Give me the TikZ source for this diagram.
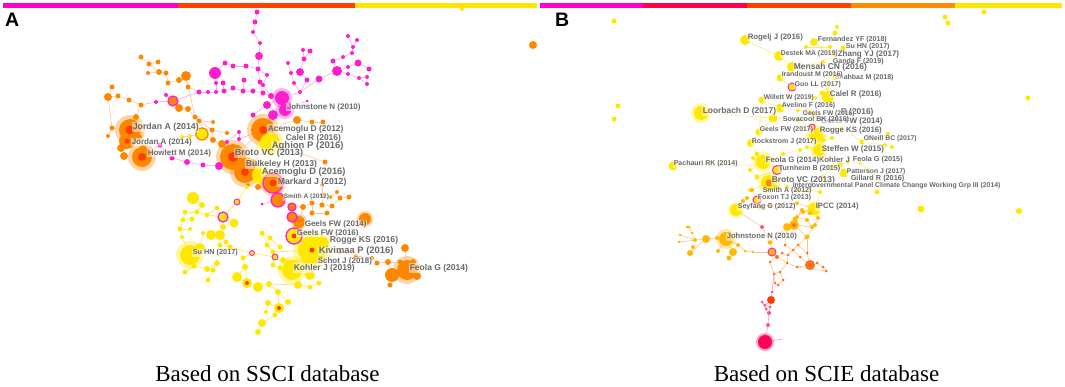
\documentclass[tikz,border=0pt]{standalone}
\usepackage{fontspec}
\setmainfont{Liberation Serif}
\newfontfamily\lsans{Liberation Sans}
\pgfdeclarelayer{bg}
\pgfsetlayers{bg,main}
\definecolor{cm}{RGB}{255,30,205}
\definecolor{co}{RGB}{255,135,0}
\definecolor{cr}{RGB}{255,60,0}
\definecolor{cy}{RGB}{255,232,0}
\definecolor{ca}{RGB}{255,185,0}
\definecolor{cn}{RGB}{255,110,25}
\definecolor{cc}{RGB}{255,0,90}
\definecolor{cp}{RGB}{255,80,150}
\definecolor{em}{RGB}{255,165,220}
\definecolor{eo}{RGB}{255,195,150}
\definecolor{ey}{RGB}{255,226,70}
\definecolor{eb}{RGB}{255,190,120}
\definecolor{labgray}{RGB}{105,105,105}
\definecolor{bm}{RGB}{255,0,200}
\definecolor{bc}{RGB}{255,0,70}
\definecolor{bo}{RGB}{255,65,0}
\definecolor{ba}{RGB}{255,140,0}
\definecolor{by}{RGB}{255,230,0}
\tikzset{
  nd/.style={circle,inner sep=0pt,outer sep=0pt},
  halo/.style={circle,inner sep=0pt,outer sep=0pt,fill opacity=0.35},
  ringm/.style={nd,draw=cm,line width=1.3pt},
  ringo/.style={nd,draw=co,line width=1.3pt},
  ea/.style={draw=em,line width=0.6pt},
  eoa/.style={draw=eo,line width=0.6pt},
  eya/.style={draw=ey,line width=0.6pt},
  eyb/.style={draw=ey,line width=0.5pt,opacity=0.8},
  ebb/.style={draw=eb,line width=0.5pt},
  epb/.style={draw=cp!60,line width=0.6pt},
  lab/.style={anchor=west,inner sep=0.6pt,fill=white,fill opacity=0.5,text opacity=1,text=labgray,font=\lsans\bfseries\fontsize{#1}{#1}\selectfont},
  captext/.style={anchor=base,inner sep=0pt,font=\fontsize{23}{23}\selectfont},
  paneltag/.style={anchor=base west,inner sep=0pt,font=\lsans\bfseries\fontsize{19.5}{19.5}\selectfont}
}
\begin{document}
\begin{tikzpicture}[x=1pt,y=-1pt]
\useasboundingbox (0,0) rectangle (1065,386);
% timeline bars
\fill[bm] (3,3) rectangle (178,8);
\fill[bo] (178,3) rectangle (355,8);
\fill[by] (355,3) rectangle (537,8);
\fill[bm] (540,3) rectangle (643,8);
\fill[bc] (643,3) rectangle (747,8);
\fill[bo] (747,3) rectangle (851,8);
\fill[ba] (851,3) rectangle (955,8);
\fill[by] (955,3) rectangle (1062,8);
\node[nd,fill=cy,minimum size=4] (bardot) at (462,9) {};
\node[paneltag] (pA) at (5,26) {A};
\node[paneltag] (pB) at (555,26) {B};
% ---------------- panel A nodes
\foreach \n/\x/\y/\d/\c in {
t1/257/12/5/cm, t2/255/22/5/cm, t3/253/32/4/cm, t4/260/43/4/cm, t5/259/56/8/cm, t6/258/69/5/cm, t7/260/82/5/cm, t8/263/93/5/cm, t9/271/96/6/cm, t10/282/98/14/cm, t11/285/110/12/cm, t12/273/115/10/cm, t13/267/105/8/cm, t14/253/115/5/cm, t15/246/66/5/cm, t16/233/66/5/cm, t17/225/63/5/cm, t18/215/73/12/cm, t19/216/83/4/cm, t20/223/83/5/cm, t21/216/92/4/cm, t22/224/91/5/cm, t23/233/88/5/cm, t24/243/91/5/cm, t25/253/91/5/cm, t26/244/80/5/cm, t27/267/75/4/cm, t28/263/85/4/cm, t29/208/92/4/cm, t30/199/92/5/cm, t31/288/63/4/cm, t32/291/73/4/cm, t33/294/83/4/cm, t34/300/72/8/cm, t35/304/59/5/cm, t36/307/80/5/cm, t37/310/51/5/cm, t38/303/50/4/cm, t39/319/79/7/cm, t40/300/92/4/cm, t41/337/71/10/cm, t42/333/61/5/cm, t43/343/57/4/cm, t44/348/36/4/cm, t45/357/40/4/cm, t46/353/47/4/cm, t47/352/53/4/cm, t48/358/63/7/cm, t49/348/67/4/cm, t50/348/74/4/cm, t51/359/78/4/cm, t52/367/77/4/cm, t53/367/84/4/cm, t54/369/69/5/cm, t55/307/101/3/cm,
o1/108/97/8/co, o2/112/87/5/co, o3/118/96/5/co, o4/129/100/5/co, o5/141/105/5/co, o6/141/57/5/co, o7/149/64/5/co, o8/158/62/5/co, o9/159/72/6/co, o10/166/73/5/co, o11/148/73/4/co, o12/168/83/5/co, o13/179/80/6/co, o14/186/76/10/co, o15/188/87/5/co, o16/156/102/4/cm, o17/166/95/4/cm, o19/179/108/8/co, o20/188/109/6/co,
j1/130/130/22/co, j2/127/141/16/co, j3/121/148/8/co, j4/124/156/8/co, j5/142/157/20/co, j6/143/149/8/co, j7/112/128/5/co, j8/108/136/4/co, j9/136/117/6/co, j10/139/137/6/co, j11/160/145/5/cm,
b1/172/158/5/cm, b2/187/162/6/cm, b3/203/165/5/cm, b4/219/166/8/cm, b5/227/142/4/cm, b6/239/132/4/cm, b7/239/139/4/cm,
ys1/190/136/4/cy, ys2/182/137/4/cy,
c1/195/117/5/co, c2/199/121/5/co, c3/212/130/5/co, c4/213/140/6/co, c5/222/144/8/co, c6/213/122/4/co, c7/227/133/4/co,
B1/233/157/26/co, B2/245/172/22/co, B3/253/163/8/co, A1/263/130/24/co, A2/270/143/20/cy, A3/260/175/16/cy,
z1/297/120/8/co, z2/312/122/5/co, z3/323/122/5/co, z4/325/162/5/co,
r1/303/207/6/co, r2/312/203/5/co, r3/322/205/5/co, r4/332/206/5/co, r5/340/198/5/co, r6/349/197/5/co, r7/322/195/4/co, r8/330/197/4/co, r9/312/213/5/co, r10/327/213/5/co, r11/322/185/4/co, r12/337/192/4/co, r13/258/187/6/co, r14/248/185/4/co, r15/262/204/3/cm,
g1/299/222/12/co, g2/365/219/12/co,
k1/312/250/28/cy, k2/322/243/14/cy, k3/307/260/10/cy, k4/292/270/20/cy, k5/310/275/10/cy,
h1/340/252/4/co, h2/356/256/4/co,
f1/407/270/20/co, f2/392/275/14/co, f3/405/248/8/co, f4/388/262/6/co, f5/413/262/6/co, f6/417/276/8/co, f7/377/263/5/co, f8/390/285/5/co, f9/400/262/5/co, f10/372/258/4/co,
y1/193/198/12/cy, y2/202/205/6/cy, y3/185/212/5/cy, y4/197/212/5/cy, y5/207/215/5/cy, y7/217/208/5/cy, y8/183/220/5/cy, y9/192/219/5/cy, y10/234/223/9/cy, y11/180/229/5/cy, y12/190/229/4/cy, y13/203/233/4/cy, y14/211/235/10/cy, y15/220/235/10/cy, y16/223/227/6/cy, y17/230/247/5/cy, y18/220/245/5/cy, y19/226/242/5/cy, y20/190/255/20/cy, y21/200/248/10/cy, y22/182/237/4/cy, y23/194/266/5/cy, y24/185/272/5/cy, y25/207/269/6/cy, y26/217/263/6/cy, y27/213/270/5/cy, y28/208/280/5/cy, y32/243/258/5/cy, y33/245/267/6/cy, y34/237/277/10/cy, y35/247/283/10/cy, y36/258/287/10/cy, y37/269/284/6/cy, y38/278/292/6/cy, y39/279/308/10/cy, y40/275/315/5/cy, y41/268/303/6/cy, y42/262/323/8/cy, y43/258/332/6/cy, y44/288/302/6/cy, y45/298/285/8/cy, y46/310/287/5/cy, y47/319/283/5/cy, y48/266/312/4/cy, y49/262/233/5/cy, y50/270/238/5/cy, y51/267/245/5/cy, y52/273/252/5/cy, y53/280/247/5/cy, y54/283/260/6/cy, y55/288/265/6/cy, y56/273/265/5/cy, y57/280/268/5/cy, y58/247/187/4/cy}
  {\node[nd,fill=\c,minimum size=\d] (\n) at (\x,\y) {};}
% ring nodes A
\node[ringm,fill=co,minimum size=10] (o18) at (173,101) {};
\node[ringo,fill=cy,minimum size=12] (yr1) at (202,134) {};
\node[ringm,fill=co,minimum size=20] (M1) at (273,183) {};
\node[ringm,fill=co,minimum size=14] (M2) at (278,200) {};
\node[ringm,fill=co,minimum size=8] (M4) at (292,207) {};
\node[ringm,fill=co,minimum size=10] (M5) at (292,217) {};
\node[ringm,fill=cy,minimum size=16] (g3) at (294,236) {};
\node[ringm,fill=cy,minimum size=10] (y6) at (223,217) {};
\node[ringm,fill=cy,line width=0.9pt,minimum size=6] (y29) at (237,202) {};
\node[ringm,fill=cy,line width=0.9pt,minimum size=5] (y30) at (252,253) {};
\node[ringm,fill=cy,line width=0.9pt,minimum size=6] (y31) at (275,257) {};
% dark centres
\foreach \n/\d in {j1/9, j2/5, j5/8, B1/10, B2/8, A1/8, M1/7, k1/5, y35/4, y39/4, g3/5}
  {\node[nd,fill=cr,minimum size=\d] (\n c) at (\n) {};}
% ---------------- panel A edges and halos
\begin{pgfonlayer}{bg}
\foreach \n/\d/\c in {j1/30/co, j5/28/co, B1/34/co, B2/30/co, A1/32/co, A2/28/cy, A3/22/cy, M1/26/co, k1/38/cy, k4/28/cy, f1/28/co, y20/28/cy, t10/20/cm, t11/18/cm, g1/16/co, g2/16/co}
  {\node[halo,fill=\c,minimum size=\d] (\n h) at (\n) {};}
\foreach \a/\b in {t1/t2, t2/t3, t3/t4, t4/t5, t5/t6, t6/t7, t7/t8, t8/t9, t9/t10, t10/t11, t10/t12, t10/t13, t13/t14, t6/t15, t15/t16, t16/t17, t17/t18, t18/t19, t19/t21, t20/t22, t21/t22, t22/t23, t23/t24, t24/t25, t25/t8, t26/t24, t6/t27, t27/t28, t28/t9, t21/t29, t29/t30, t10/t40, t40/t33, t33/t32, t32/t31, t40/t36, t36/t34, t34/t35, t35/t37, t35/t38, t40/t39, t39/t41, t41/t42, t42/t43, t43/t47, t47/t46, t46/t45, t46/t44, t41/t49, t49/t48, t48/t54, t41/t50, t50/t51, t51/t52, t51/t53, t11/t55, t30/o18, o18/o17, o18/o16, o16/o5, b4/b5, b5/b6, b6/b7, b7/A1, j11/b1, b1/b2, b2/b3, b3/b4, b4/B1, B2/A3, A3/M1, M1/M2, M2/M4, M4/M5, t12/A1, M2/r15}
  {\draw[ea] (\a) -- (\b);}
\foreach \a/\b in {o5/o4, o4/o3, o3/o1, o1/o2, o1/j7, j7/j8, j7/j1, j1/j9, j9/o5, j1/j2, j2/j3, j3/j4, j2/j10, j10/j6, j6/j5, j5/j11, o14/o13, o13/o12, o12/o10, o10/o9, o9/o7, o7/o6, o9/o11, o7/o8, o14/o15, o15/t30, o14/c1, c1/c2, c2/c3, c3/c4, c4/c5, c5/B1, c2/c6, c3/c7, o18/o19, o19/o20, o20/c4, yr1/c4, yr1/ys1, ys1/ys2, B1/B2, B1/A1, A1/A2, A2/t12, B2/B3, B3/A2, A1/z1, z1/z2, z2/z3, A2/z4, M1/r13, r13/r14, M2/r1, r1/r2, r2/r3, r3/r4, r4/r5, r5/r6, r3/r7, r7/r8, r2/r9, r9/r10, r7/r11, r8/r12, M5/g1, g1/g3, g3/k1, k1/k2, k1/k3, k2/g2, k2/h1, h1/h2, h2/f10, f10/f7, f7/f4, f4/f2, f2/f1, f1/f3, f1/f5, f1/f6, f2/f8, f4/f9, g1/r1}
  {\draw[eoa] (\a) -- (\b);}
\foreach \a/\b in {A3/y58, y58/y29, y29/y6, y6/y10, y6/y5, y5/y4, y4/y2, y2/y1, y4/y3, y3/y8, y8/y9, y8/y11, y11/y12, y11/y22, y22/y20, y20/y21, y21/y13, y13/y14, y14/y15, y15/y16, y16/y10, y15/y19, y19/y17, y17/y18, y20/y23, y23/y24, y23/y25, y25/y26, y26/y27, y27/y28, y7/y5, y17/y30, y30/y32, y32/y33, y33/y34, y30/y31, y31/k4, y31/y49, y49/y50, y50/y51, y51/y52, y52/k1, y50/y53, y54/y55, y55/k4, y56/y57, y52/y56, y34/y35, y35/y36, y36/y37, y37/y38, y38/y39, y39/y40, y39/y41, y41/y48, y40/y42, y42/y43, y38/y44, y37/y45, y45/y46, y46/y47, y33/y35, k1/k4, k4/k5, k1/k3, y54/k3}
  {\draw[eya] (\a) -- (\b);}
\end{pgfonlayer}
% ---------------- panel A labels
\node[lab=8] (la1) at (286,107) {Johnstone N (2010)};
\node[lab=8.4] (la2) at (267,129) {Acemoglu D (2012)};
\node[lab=8.4] (la3) at (285,138) {Calel R (2016)};
\node[lab=9.5] (la4) at (271,146) {Aghion P (2016)};
\node[lab=9.1] (la5) at (234,153) {Broto VC (2013)};
\node[lab=8.6] (la6) at (245,164) {Bulkeley H (2013)};
\node[lab=9.3] (la7) at (261,172) {Acemoglu D (2016)};
\node[lab=8.7] (la8) at (277,182) {Markard J (2012)};
\node[lab=6.5] (la9) at (283,197) {Smith A (2012)};
\node[lab=8.8] (la10) at (132,127) {Jordan A (2014)};
\node[lab=8] (la11) at (131,142) {Jordan A (2014)};
\node[lab=8] (la12) at (147,153) {Howlett M (2014)};
\node[lab=8] (la13) at (304,224) {Geels FW (2014)};
\node[lab=8] (la14) at (296,233) {Geels FW (2016)};
\node[lab=8.6] (la15) at (329,240) {Rogge KS (2016)};
\node[lab=9.4] (la16) at (318,251) {Kivimaa P (2016)};
\node[lab=8] (la17) at (317,261) {Schot J (2018)};
\node[lab=8.5] (la18) at (293,268) {Kohler J (2019)};
\node[lab=7.3] (la19) at (192,253) {Su HN (2017)};
\node[lab=8.5] (la20) at (409,268) {Feola G (2014)};
% ---------------- panel B nodes
\foreach \n/\x/\y/\d/\c in {
q1/533/45/8/co, q2/614/21/5/cy, q3/945/17/5/cy, q4/948/23/5/cy, q5/984/12/5/cy, q6/837/27/4/cy, q7/835/33/5/cy, q8/618/106/5/cy, q9/614/119/5/cy, q10/1028/98/5/cy, q11/921/209/7/cy, q12/1019/211/6/cy, q13/745/40/10/cy, q14/814/42/8/cy, q15/843/48/5/cy, q16/779/56/10/cy, q17/835/55/4/cy, q18/792/67/10/cy, q19/780/78/7/cy, q20/835/78/5/cy, q22/828/97/12/cy, q23/762/100/7/cy, q24/780/108/9/cy, q25/701/113/14/cy, q26/773/118/9/cy, q27/810/112/5/cy, q29/816/135/14/cy, q30/759/132/7/cy, q31/751/143/8/cy, q32/862/142/5/cy, q33/888/134/4/cy, q34/892/147/4/cy, q35/885/145/4/cy, q36/819/150/12/cy, q37/673/166/9/cy, q38/763/162/14/cy, q40/769/183/16/cy, q41/844/173/9/cy, q43/736/210/12/cy, q44/814/209/12/cy, q46/750/190/4/cy,
p1/806/47/4/cy, p2/830/47/4/cy, p3/823/62/4/cy, p4/832/73/4/cy, p5/822/93/5/cy, p6/827/88/4/cy, p7/815/98/4/cy, p8/798/110/4/cy, p9/799/120/5/cy, p10/832/138/4/cy, p11/823/140/5/cy, p12/807/147/4/cy, p13/800/150/4/cy, p14/783/154/4/cy, p15/757/154/5/cy, p16/753/158/4/cy, p17/760/165/4/cy, p18/750/170/4/cy, p19/757/177/5/cy, p20/777/187/4/cy, p21/787/187/4/cy, p22/797/190/4/cy, p23/810/190/4/cy, p24/820/192/4/cy, p25/823/177/5/cy, p26/832/167/4/cy, p27/840/165/5/cy, p28/848/162/4/cy, p29/860/163/4/cy, p30/868/170/4/cy, p31/877/192/5/cy, p32/815/116/5/cy, p33/842/128/4/cy,
p34/747/198/4/ca, p35/743/201/4/ca, p36/752/190/4/ca, p37/760/207/4/ca, p38/770/205/4/ca, p39/797/203/4/ca, p40/803/212/4/ca, p41/797/217/4/ca, p42/807/220/4/ca, p43/812/227/4/ca,
L1/726/239/14/ca, L2/706/239/8/ca, L3/733/252/8/ca, L4/729/258/5/ca, L5/690/253/6/ca, L6/693/247/4/ca, L7/680/235/3/ca, L8/679/242/3/ca, L9/689/227/3/ca, L10/692/233/3/ca, L11/695/240/4/ca, L12/717/238/4/ca, L13/718/251/4/ca, L14/738/245/4/ca, L15/745/251/3/ca, L16/753/252/3/ca, L17/762/227/4/cp, L19/770/242/5/ca, L20/787/227/8/ca, L21/794/225/10/ca, L22/795/219/5/ca, L23/807/237/5/ca, L24/810/213/4/ca, L25/802/210/4/ca, L26/815/225/4/ca, L27/818/218/4/ca, L29/687/227/3/ca,
N1/777/257/4/cn, N2/782/253/3/cn, N3/788/255/3/cn, N4/793/250/3/cn, N5/800/257/3/cn, N6/807/253/3/cn, N7/810/265/10/cn, N8/817/263/3/cn, N9/823/267/3/cn, N10/826/271/3/cn, N11/797/267/3/cn, N12/787/263/3/cn, N13/780/272/3/cn, N14/783/280/3/cn, N15/778/285/3/cn, N16/774/274/3/cn, N17/775/283/3/cn, N18/785/245/3/cn, N19/770/262/3/cn, N20/798/245/3/cn,
S1/772/292/3/cp, S2/771/300/8/cr, S3/765/305/3/cp, S4/762/302/3/cp, S5/766/309/3/cp, S6/770/307/3/cp, S7/769/313/4/cp, S8/768/325/4/cp, S9/765/342/14/cc}
  {\node[nd,fill=\c,minimum size=\d] (\n) at (\x,\y) {};}
\coordinate (tail) at (783,339);
\node[ringm,fill=cy,line width=1pt,minimum size=8] (q21) at (792,87) {};
\node[ringm,fill=cy,line width=1pt,minimum size=6] (q28) at (812,127) {};
\node[ringm,fill=cy,line width=1pt,minimum size=9] (q39) at (777,170) {};
\node[ringm,fill=cy,line width=1pt,minimum size=8] (q45) at (757,200) {};
\node[ringm,fill=ca,line width=1pt,minimum size=8] (L18) at (772,252) {};
\node[nd,fill=co,minimum size=7] (q40c) at (q40) {};
\node[nd,fill=cn,minimum size=4] (L21c) at (L21) {};
% ---------------- panel B edges and halos
\begin{pgfonlayer}{bg}
\foreach \n/\d/\c in {q25/20/cy, q38/20/cy, q40/22/cy, q29/20/cy, q36/18/cy, q43/16/cy, q44/16/cy, L1/20/ca, S9/18/cc}
  {\node[halo,fill=\c,minimum size=\d] (\n h) at (\n) {};}
\foreach \a/\b in {q25/q26, q26/q24, q24/q23, q24/q21, q21/q19, q19/q18, q18/q16, q16/q13, q18/p3, p3/q17, q17/q14, q17/q15, p3/p2, p2/p1, q18/q20, q20/p4, p4/p6, p6/q22, q22/p5, p5/p7, p7/p8, p8/q27, q27/p32, p32/q29, q29/q28, q29/p33, p33/q32, q32/q33, q32/q35, q35/q34, q29/p10, p10/p11, p11/q36, q36/p12, p12/p13, p13/p14, p14/q38, q38/p15, p15/q31, q31/q30, q30/q26, q38/p16, p16/p17, p17/q37, q38/p18, p18/p19, p19/q39, q39/q40, q40/q46, q46/p36, p36/q45, q45/p34, p34/p35, p35/q43, q40/p20, p20/p21, p21/p22, p22/p23, p23/p24, p24/p25, p25/p26, p26/p27, p27/p28, p28/p29, p29/p30, p30/p31, p24/q44, q36/q41, q41/p27, q26/p9, p9/q29, q23/q30, q24/p8}
  {\draw[eyb] (\a) -- (\b);}
\foreach \a/\b in {q44/p39, p39/p38, p38/p37, p37/q43, q44/p40, p40/p41, p41/p42, p42/p43, q43/L17, L17/L19, L19/L18, p43/L21, L7/L11, L8/L11, L9/L10, L10/L11, L29/L9, L11/L2, L6/L5, L5/L2, L2/L12, L12/L1, L1/L3, L3/L4, L1/L13, L1/L14, L14/L15, L15/L16, L16/L18, L18/N1, N1/N2, N2/N3, N3/N4, N4/N5, N1/N12, N12/N11, N11/N7, N7/N8, N8/N9, N9/N10, N7/N6, N6/N20, N20/N4, N5/N7, N3/N12, N13/N14, N14/N15, N13/N16, N16/N17, N17/N15, N19/N1, N19/N16, L21/L20, L20/L19, L21/L22, L22/L25, L25/L24, L24/q44, L27/L26, L26/L23, L23/N6, L21/L23, L27/q44, N18/L20, N18/N4, N12/N13, N20/L23, N10/N11}
  {\draw[ebb] (\a) -- (\b);}
\foreach \a/\b in {N16/S1, S1/S2, S2/S3, S2/S6, S3/S4, S4/S5, S5/S6, S3/S6, S4/S7, S6/S7, S7/S8, S8/S9, S9/tail}
  {\draw[epb] (\a) -- (\b);}
\end{pgfonlayer}
% ---------------- panel B labels
\node[lab=7.8] (lb1) at (747,37) {Rogelj J (2016)};
\node[lab=7.1] (lb2) at (817,40) {Fernandez YF (2018)};
\node[lab=7.1] (lb3) at (845,47) {Su HN (2017)};
\node[lab=6.9] (lb4) at (780,54) {Destek MA (2019)};
\node[lab=8] (lb5) at (837,54) {Zhang YJ (2017)};
\node[lab=7.1] (lb6) at (832,61.5) {Ganda F (2019)};
\node[lab=8.5] (lb7) at (793,67.5) {Mensah CN (2016)};
\node[lab=7] (lb8) at (834,78) {Shahbaz M (2018)};
\node[lab=6.9] (lb9) at (781,75) {Irandoust M (2016)};
\node[lab=6.9] (lb10) at (794,85) {Guo LL (2017)};
\node[lab=7.9] (lb11) at (829,94) {Calel R (2016)};
\node[lab=6.8] (lb12) at (763,98) {Willett W (2019)};
\node[lab=7] (lb13) at (781,106) {Avelino F (2016)};
\node[lab=8.4] (lb14) at (702,111) {Loorbach D (2017)};
\node[lab=8.4] (lb15) at (840,112) {R (2016)};
\node[lab=6.7] (lb16) at (802,114) {Geels FW (2016)};
\node[lab=8] (lb17) at (820,121) {Geels FW (2014)};
\node[lab=7.1] (lb18) at (782,120) {Sovacool BK (2016)};
\node[lab=6.9] (lb19) at (759,130) {Geels FW (2017)};
\node[lab=7.8] (lb20) at (819,130) {Rogge KS (2016)};
\node[lab=7] (lb21) at (751,142) {Rockstrom J (2017)};
\node[lab=6.8] (lb22) at (863,139) {ONeill BC (2017)};
\node[lab=8] (lb23) at (821,149) {Steffen W (2015)};
\node[lab=7] (lb24) at (673,164) {Pachauri RK (2014)};
\node[lab=7.8] (lb25) at (818,160) {Kohler J};
\node[lab=7.8] (lb26) at (765,160) {Feola G (2014)};
\node[lab=7.3] (lb27) at (852,160) {Feola G (2015)};
\node[lab=7.1] (lb28) at (778,169) {Turnheim B (2015)};
\node[lab=6.8] (lb29) at (846,172) {Patterson J (2017)};
\node[lab=7.3] (lb30) at (850,179) {Gillard R (2016)};
\node[lab=8.4] (lb31) at (771,180) {Broto VC (2013)};
\node[lab=6.9] (lb32) at (792,186) {Intergovernmental Panel Climate Change Working Grp III (2014)};
\node[lab=7] (lb33) at (762,191) {Smith A (2012)};
\node[lab=7] (lb34) at (757,198) {Foxon TJ (2013)};
\node[lab=7.1] (lb35) at (737,207) {Seyfang G (2012)};
\node[lab=7.7] (lb36) at (815,207) {IPCC (2014)};
\node[lab=7.6] (lb37) at (726,237) {Johnstone N (2010)};
% ---------------- captions
\node[captext] (capA) at (267.5,381) {Based on SSCI database};
\node[captext] (capB) at (826.5,381) {Based on SCIE database};
\end{tikzpicture}
\end{document}
